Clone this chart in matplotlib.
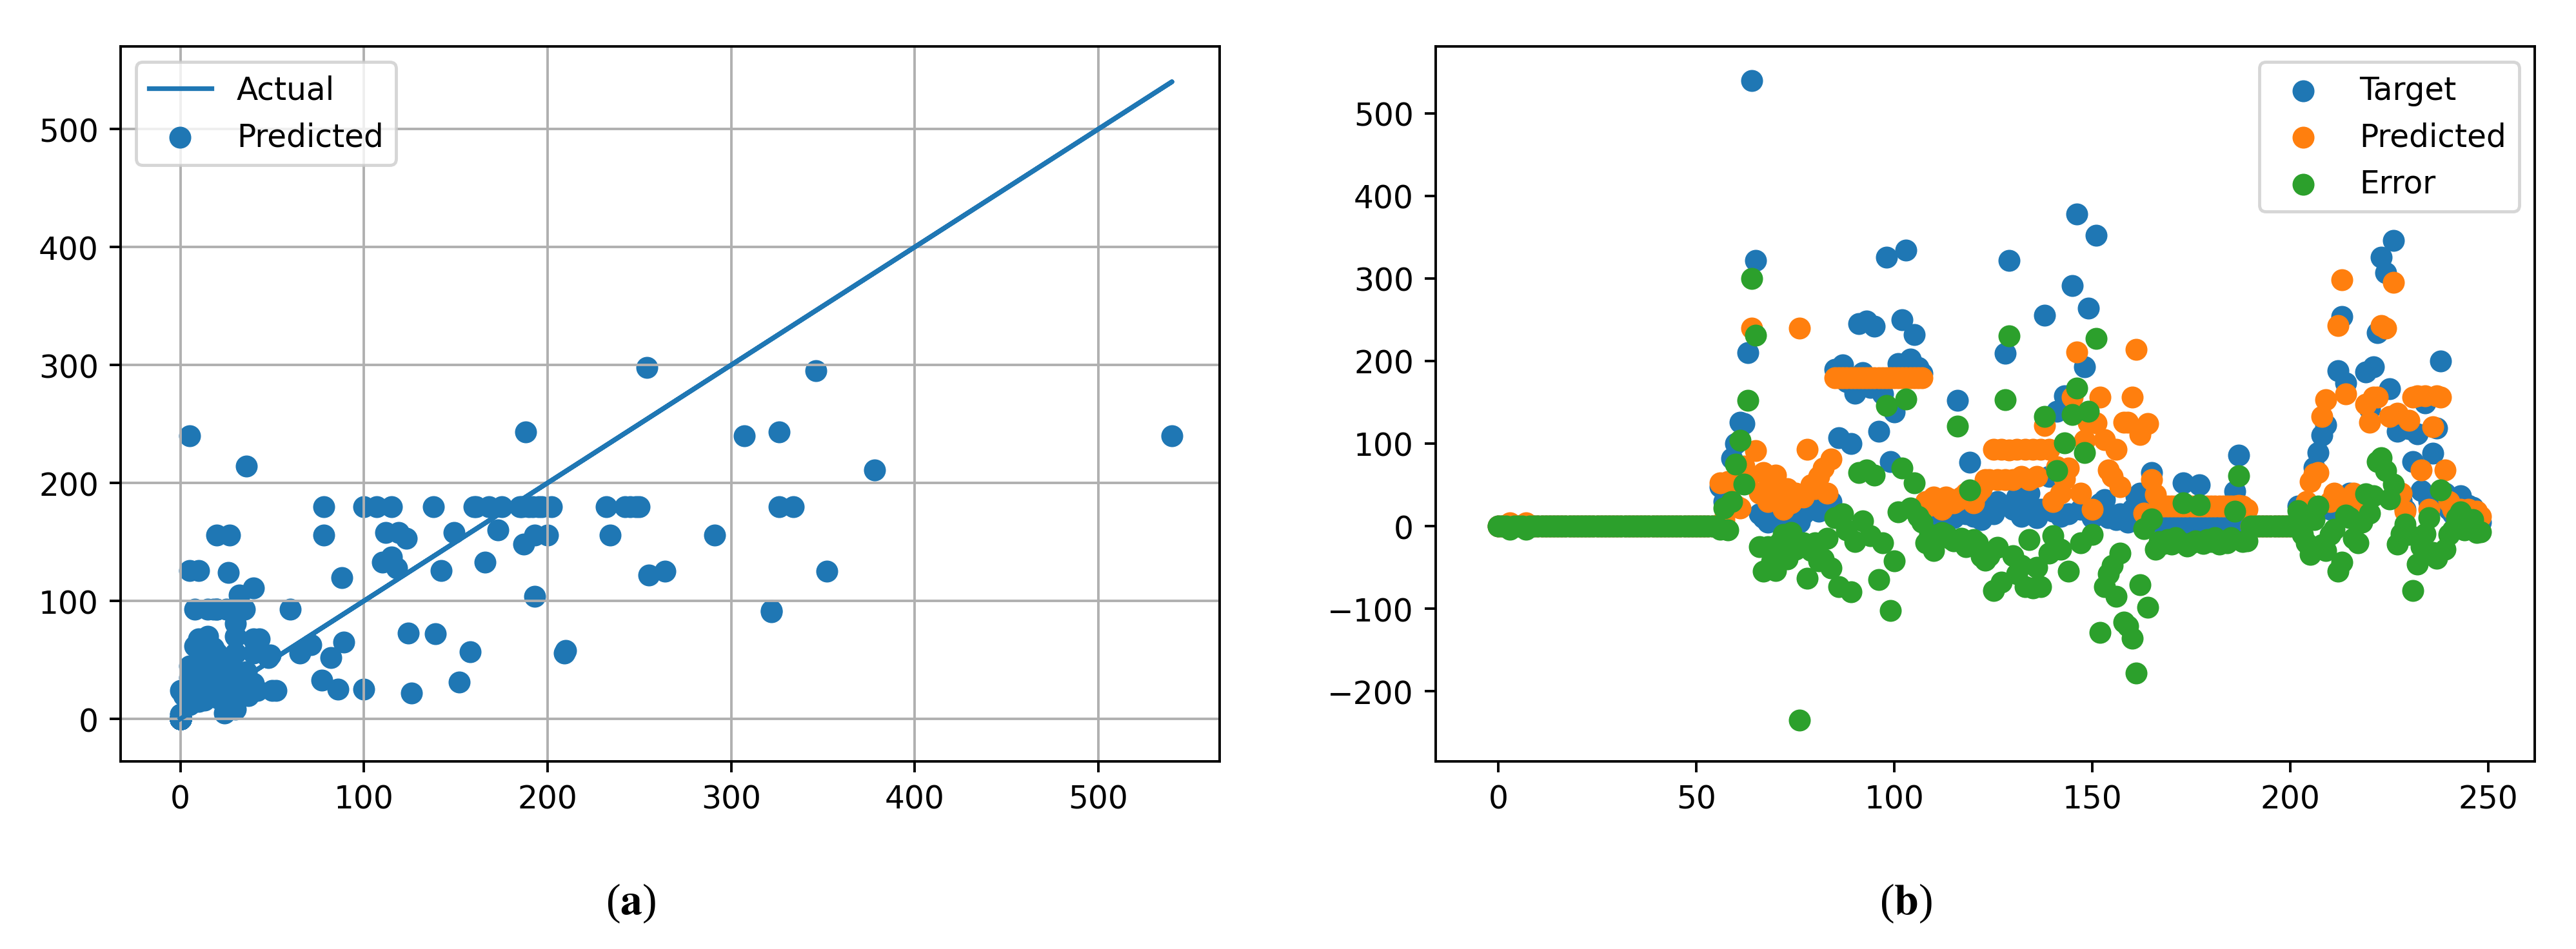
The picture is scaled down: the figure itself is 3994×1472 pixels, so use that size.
import matplotlib
matplotlib.use("Agg")
import matplotlib.pyplot as plt
import numpy as np

# values, index 0..248
target = [
    0, 0, 0, 0, 0, 0, 0, 0, 0, 0,
    0, 0, 0, 0, 0, 0, 0, 0, 0, 0,
    0, 0, 0, 0, 0, 0, 0, 0, 0, 0,
    0, 0, 0, 0, 0, 0, 0, 0, 0, 0,
    0, 0, 0, 0, 0, 0, 0, 0, 0, 0,
    0, 0, 0, 0, 0, 0, 48, 30, 49, 82,
    100, 126, 124, 210, 540, 322, 15, 10, 5, 12,
    8, 15, 10, 5, 20, 12, 5, 15, 30, 20,
    25, 18, 30, 25, 30, 190, 107, 195, 175, 100,
    161, 245, 186, 248, 168, 242, 115, 160, 326, 78,
    138, 197, 250, 334, 202, 232, 192, 185, 10, 15,
    5, 20, 12, 25, 18, 10, 152, 20, 15, 77,
    12, 20, 8, 15, 20, 15, 30, 25, 209, 322,
    20, 35, 12, 20, 40, 18, 10, 20, 255, 60,
    18, 139, 12, 158, 15, 291, 378, 20, 193, 264,
    10, 352, 27, 32, 10, 12, 8, 15, 10, 5,
    20, 36, 40, 13, 26, 65, 10, 5, 3, 8,
    2, 10, 5, 52, 0, 4, 6, 50, 3, 8,
    5, 10, 2, 6, 4, 10, 42, 86, 5, 2,
    0, 0, 0, 0, 0, 0, 0, 0, 0, 0,
    0, 0, 24, 5, 10, 20, 71, 89, 110, 123,
    20, 36, 188, 254, 173, 40, 25, 10, 30, 187,
    142, 193, 234, 326, 307, 166, 346, 115, 31, 20,
    118, 78, 112, 43, 149, 30, 88, 119, 200, 40,
    20, 15, 30, 37, 10, 25, 23, 10, 5,
]

predicted = [
    0, 0, 0, 4, 0, 0, 0, 4, 0, 0,
    0, 0, 0, 0, 0, 0, 0, 0, 0, 0,
    0, 0, 0, 0, 0, 0, 0, 0, 0, 0,
    0, 0, 0, 0, 0, 0, 0, 0, 0, 0,
    0, 0, 0, 0, 0, 0, 0, 0, 0, 0,
    0, 0, 0, 0, 0, 0, 52, 8, 54, 52,
    25, 22, 73, 58, 240, 91, 40, 65, 30, 55,
    62, 35, 20, 45, 28, 40, 240, 35, 93, 50,
    45, 60, 70, 40, 81, 180, 180, 180, 180, 180,
    180, 180, 180, 180, 180, 180, 180, 180, 180, 180,
    180, 180, 180, 180, 180, 180, 180, 180, 30, 25,
    35, 30, 20, 35, 33, 28, 31, 35, 40, 33,
    28, 40, 45, 56, 56, 93, 56, 93, 56, 92,
    56, 93, 60, 93, 56, 93, 60, 93, 122, 93,
    30, 72, 40, 57, 70, 156, 211, 40, 104, 125,
    20, 125, 156, 105, 68, 60, 93, 48, 126, 126,
    156, 214, 111, 16, 124, 56, 38, 24, 24, 24,
    24, 24, 24, 24, 24, 24, 24, 24, 24, 24,
    24, 24, 24, 24, 24, 24, 24, 25, 24, 20,
    0, 0, 0, 0, 0, 0, 0, 0, 0, 0,
    0, 0, 5, 15, 30, 54, 63, 65, 133, 153,
    30, 40, 243, 298, 160, 30, 40, 30, 25, 148,
    126, 156, 156, 243, 240, 133, 295, 137, 40, 18,
    128, 156, 158, 68, 158, 20, 120, 158, 156, 68,
    30, 20, 20, 20, 15, 20, 15, 18, 12,
]

target = np.array(target)
predicted = np.array(predicted)
error = target - predicted
index = np.arange(len(target))

plt.rcParams['font.size'] = 10
plt.rcParams['mathtext.fontset'] = 'stix'

fig = plt.figure(figsize=(3994 / 350, 1473 / 350), dpi=350)

# (a) predicted vs actual
ax1 = fig.add_axes([187 / 3994, 1 - 1182 / 1473, 1704 / 3994, 1109 / 1473])
ax1.plot(target, target, label='Actual')
ax1.scatter(target, predicted, label='Predicted')
ax1.grid(True)
ax1.set_xlim(-32.5, 566)
ax1.set_ylim(-36, 570)
ax1.set_xticks([0, 100, 200, 300, 400, 500])
ax1.set_yticks([0, 100, 200, 300, 400, 500])
ax1.legend(loc='upper left')

# (b) target / predicted / error over samples
ax2 = fig.add_axes([2226 / 3994, 1 - 1182 / 1473, 1704 / 3994, 1109 / 1473])
ax2.scatter(index, target, label='Target')
ax2.scatter(index, predicted, label='Predicted')
ax2.scatter(index, error, label='Error')
ax2.set_xlim(-15.8, 261.7)
ax2.set_ylim(-285, 581)
ax2.set_xticks([0, 50, 100, 150, 200, 250])
ax2.set_yticks([-200, -100, 0, 100, 200, 300, 400, 500])
ax2.legend(loc='upper right')

cap = dict(family='Liberation Serif', fontsize=14, ha='center', va='center')
fig.text(978 / 3994, 1 - 1401 / 1473, r'($\mathbf{a}$)', **cap)
fig.text(2955 / 3994, 1 - 1401 / 1473, r'($\mathbf{b}$)', **cap)

fig.savefig('out.png', dpi=350)
